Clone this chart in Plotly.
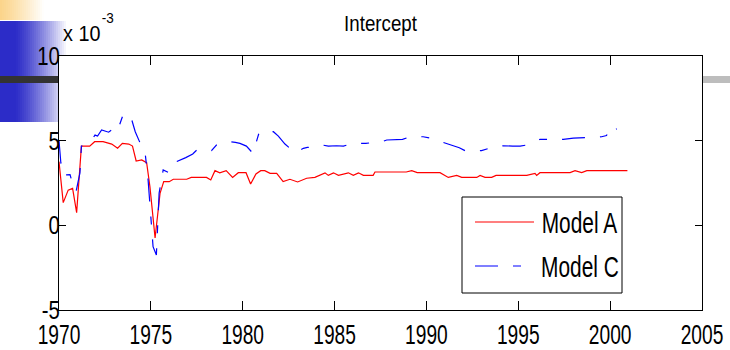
import plotly.graph_objects as go

# Intercept estimates (units of 1e-3), quarterly-ish sampling
years_a = [1970.00, 1970.23, 1970.50, 1970.74, 1970.96, 1971.22, 1971.67, 1971.94,
           1972.40, 1972.87, 1973.19, 1973.45, 1973.80, 1974.00, 1974.20, 1974.50,
           1974.77, 1974.95, 1975.23, 1975.50, 1975.70, 1976.00, 1976.22, 1976.95,
           1977.20, 1978.03, 1978.26, 1978.49, 1978.75, 1979.10, 1979.45, 1979.76,
           1980.18, 1980.43, 1980.72, 1980.98, 1981.20, 1981.49, 1981.85, 1982.20,
           1982.57, 1982.99, 1983.48, 1983.93, 1984.48, 1984.66, 1984.94, 1985.21,
           1985.75, 1986.02, 1986.30, 1986.57, 1987.10, 1987.20, 1988.90, 1989.20,
           1989.50, 1990.74, 1991.19, 1991.65, 1991.92, 1992.74, 1992.92, 1993.19,
           1993.55, 1993.79, 1995.46, 1995.91, 1996.00, 1996.18, 1997.82, 1998.09,
           1998.45, 1998.73, 2000.94]
model_a = [3.76, 1.34, 2.08, 2.18, 0.75, 4.68, 4.68, 4.94,
           4.94, 4.80, 4.55, 4.84, 4.80, 4.68, 3.80, 3.86,
           3.70, 2.28, -0.75, 1.89, 2.58, 2.58, 2.72, 2.72,
           2.83, 2.83, 2.68, 3.23, 3.10, 3.23, 2.83, 3.11,
           3.11, 2.44, 3.03, 3.23, 3.23, 3.07, 3.07, 2.58,
           2.72, 2.56, 2.78, 2.83, 3.10, 2.95, 3.10, 2.95,
           3.10, 2.95, 3.10, 2.95, 2.95, 3.15, 3.15, 3.23,
           3.11, 3.11, 2.83, 2.95, 2.83, 2.83, 2.95, 2.83,
           2.83, 2.95, 2.95, 3.07, 2.95, 3.11, 3.11, 3.23,
           3.11, 3.23, 3.23]

years_c = [1970.00, 1970.10, 1970.20, 1970.60, 1970.80, 1970.93, 1971.14, 1971.22,
           1971.67, 1971.96, 1972.10, 1972.32, 1972.70, 1973.05, 1973.20, 1973.50,
           1973.90, 1974.15, 1974.40, 1974.57, 1974.68, 1974.85, 1975.12, 1975.30,
           1975.45, 1975.55, 1975.67, 1976.00, 1976.40, 1976.90, 1977.28, 1977.50,
           1977.90, 1978.30, 1978.57, 1978.94, 1979.30, 1979.60, 1979.85, 1980.20,
           1980.56, 1980.89, 1981.20, 1981.67, 1981.94, 1982.30, 1982.57, 1982.93,
           1983.30, 1983.52, 1984.00, 1984.35, 1984.66, 1985.10, 1985.48, 1986.00,
           1986.70, 1987.20, 1987.57, 1987.84, 1988.30, 1988.70, 1989.10, 1989.82,
           1990.20, 1990.64, 1991.00, 1991.40, 1991.79, 1992.10, 1993.00, 1993.40,
           1993.83, 1994.19, 1994.70, 1995.10, 1995.50, 1996.18, 1997.10, 1997.45,
           1998.00, 1998.36, 1999.54, 1999.80, 2000.03, 2000.20, 2000.36]
model_c = [5.00, 3.70, 2.97, 3.00, 2.20, 2.00, 3.10, 4.68,
           4.86, 5.33, 5.27, 5.63, 5.50, 5.80, 5.63, 6.57,
           6.45, 5.53, 4.90, 4.64, 4.35, 2.68, -1.26, -1.75,
           1.90, 2.50, 3.27, 3.10, 3.76, 4.00, 4.21, 4.45,
           4.40, 4.41, 4.74, 4.88, 4.94, 4.90, 4.84, 4.68,
           4.25, 5.47, 5.60, 5.53, 5.27, 4.80, 4.55, 4.29,
           4.55, 4.60, 4.65, 4.74, 4.68, 4.70, 4.68, 4.84,
           4.84, 4.90, 4.94, 5.04, 5.05, 5.08, 5.23, 5.23,
           5.15, 5.00, 4.84, 4.70, 4.58, 4.41, 4.41, 4.55,
           4.64, 4.70, 4.68, 4.68, 4.75, 5.08, 5.08, 5.08,
           5.15, 5.17, 5.23, 5.30, 5.79, 5.60, 5.70]

x_ticks = [1970, 1975, 1980, 1985, 1990, 1995, 2000, 2005]
y_ticks = [-5, 0, 5, 10]
y_tick_text = ["-5", "0", "5", "10"]
series_names = ["Model A", "Model C"]

W, H = 730, 350
L, R, T, B = 59, 28, 56, 40
PW, PH = W - L - R, H - T - B
FONT = "Liberation Sans, Arial, Helvetica, sans-serif"
C_DASH = "23px,15px,8px,15px"


def fx(x):
    return (x - L) / PW


def fy(y):
    return (H - B - y) / PH


def gradient(x0, x1, y0, y1, rgb, fade, n):
    out = []
    step = (x1 - x0) / n
    for i in range(n):
        xa = x0 + i * step
        t = min(1.0, max(0.0, fade(xa + step / 2)))
        r, g, b = [round(c + (255 - c) * t) for c in rgb]
        out.append(dict(type="rect", xref="paper", yref="paper",
                        x0=fx(xa), x1=fx(xa + step + 0.6), y0=fy(y1), y1=fy(y0),
                        line=dict(width=0), fillcolor=f"rgb({r},{g},{b})", layer="below"))
    return out


shapes = []
# slide decoration behind the figure
shapes += gradient(0, 46, 0, 20, (251, 212, 138), lambda x: (x / 44) ** 1.2, 23)
shapes += gradient(0, 78, 21, 122, (44, 44, 200),
                   lambda x: (max(0.0, x - 15) / 52) ** 1.3, 39)
shapes.append(dict(type="rect", xref="paper", yref="paper", x0=fx(0), x1=fx(L),
                   y0=fy(83), y1=fy(76), line=dict(width=0), fillcolor="#333333", layer="below"))
shapes.append(dict(type="rect", xref="paper", yref="paper", x0=fx(W - R), x1=fx(W),
                   y0=fy(83), y1=fy(76), line=dict(width=0), fillcolor="#BDBDBD", layer="below"))
# axes area
shapes.append(dict(type="rect", xref="paper", yref="paper", x0=0, x1=1, y0=0, y1=1,
                   line=dict(width=0), fillcolor="white", layer="below"))

# legend box and samples
shapes.append(dict(type="rect", xref="paper", yref="paper", x0=fx(462), x1=fx(622),
                   y0=fy(293), y1=fy(197), line=dict(color="black", width=1),
                   fillcolor="white", layer="above"))
shapes.append(dict(type="line", xref="paper", yref="paper", x0=fx(475), x1=fx(534),
                   y0=fy(222), y1=fy(222), line=dict(color="#FF0000", width=1.2), layer="above"))
shapes.append(dict(type="line", xref="paper", yref="paper", x0=fx(475), x1=fx(534),
                   y0=fy(266), y1=fy(266), line=dict(color="#0000FF", width=1.2, dash=C_DASH),
                   layer="above"))

annotations = [
    dict(text=series_names[0], xref="paper", yref="paper", x=fx(579.5), y=fy(223),
         xanchor="center", yanchor="middle", showarrow=False,
         font=dict(family=FONT, size=29, color="black")),
    dict(text=series_names[1], xref="paper", yref="paper", x=fx(579.5), y=fy(267),
         xanchor="center", yanchor="middle", showarrow=False,
         font=dict(family=FONT, size=29, color="black")),
    dict(text="x 10", xref="paper", yref="paper", x=fx(59), y=fy(34),
         xanchor="left", yanchor="middle", showarrow=False,
         font=dict(family=FONT, size=22, color="black")),
    dict(text="-3", xref="paper", yref="paper", x=fx(99), y=fy(17),
         xanchor="left", yanchor="middle", showarrow=False,
         font=dict(family=FONT, size=15, color="black")),
]

fig = go.Figure()
fig.add_trace(go.Scatter(x=years_a, y=model_a, mode="lines", name=series_names[0],
                         line=dict(color="#FF0000", width=1.2)))
fig.add_trace(go.Scatter(x=years_c, y=model_c, mode="lines", name=series_names[1],
                         line=dict(color="#0000FF", width=1.2, dash=C_DASH)))

axis_common = dict(showline=True, linecolor="black", linewidth=1, mirror="ticks",
                   ticks="inside", tickcolor="black", showgrid=False, zeroline=False,
                   automargin=False, ticklabeloverflow="allow")

fig.update_layout(
    width=W, height=H,
    margin=dict(l=L, r=R, t=T, b=B, pad=0),
    paper_bgcolor="white", plot_bgcolor="rgba(0,0,0,0)",
    showlegend=False,
    title=dict(text="Intercept", x=0.5, xref="paper", y=1 - 23 / H, yref="container",
               xanchor="center", yanchor="middle", automargin=False,
               font=dict(family=FONT, size=22, color="black")),
    xaxis=dict(range=[1970, 2005], tickvals=x_ticks, ticklen=9, ticklabelstandoff=1,
               tickfont=dict(family=FONT, size=27, color="black"), **axis_common),
    yaxis=dict(range=[-5, 10], tickvals=y_ticks, ticktext=y_tick_text, ticklen=7,
               ticklabelstandoff=-7, tickfont=dict(family=FONT, size=26, color="black"),
               **axis_common),
    shapes=shapes,
    annotations=annotations,
)

# Narrow the glyphs of the axis, title and key labels (condensed lettering)
condense_js = """
(function(){
  var gd = document.getElementById('{plot_id}');
  var rules = [
    ['g.xtick text', 0.71],
    ['g.ytick text', 0.78],
    ['text.gtitle', 0.85],
    ['g.annotation[data-index="0"] text.annotation-text', 0.72],
    ['g.annotation[data-index="1"] text.annotation-text', 0.72],
    ['g.annotation[data-index="2"] text.annotation-text', 0.9],
    ['g.annotation[data-index="3"] text.annotation-text', 0.9]
  ];
  function condense(){
    rules.forEach(function(r){
      gd.querySelectorAll(r[0]).forEach(function(t){
        if (t.getAttribute('lengthAdjust')) return;
        var w = t.getComputedTextLength();
        if (!w) return;
        t.setAttribute('textLength', (w * r[1]).toFixed(2));
        t.setAttribute('lengthAdjust', 'spacingAndGlyphs');
      });
    });
  }
  condense();
  if (gd.on) gd.on('plotly_afterplot', condense);
  setTimeout(condense, 0);
  setTimeout(condense, 200);
})();
"""

fig.write_html("out.html", post_script=condense_js)
